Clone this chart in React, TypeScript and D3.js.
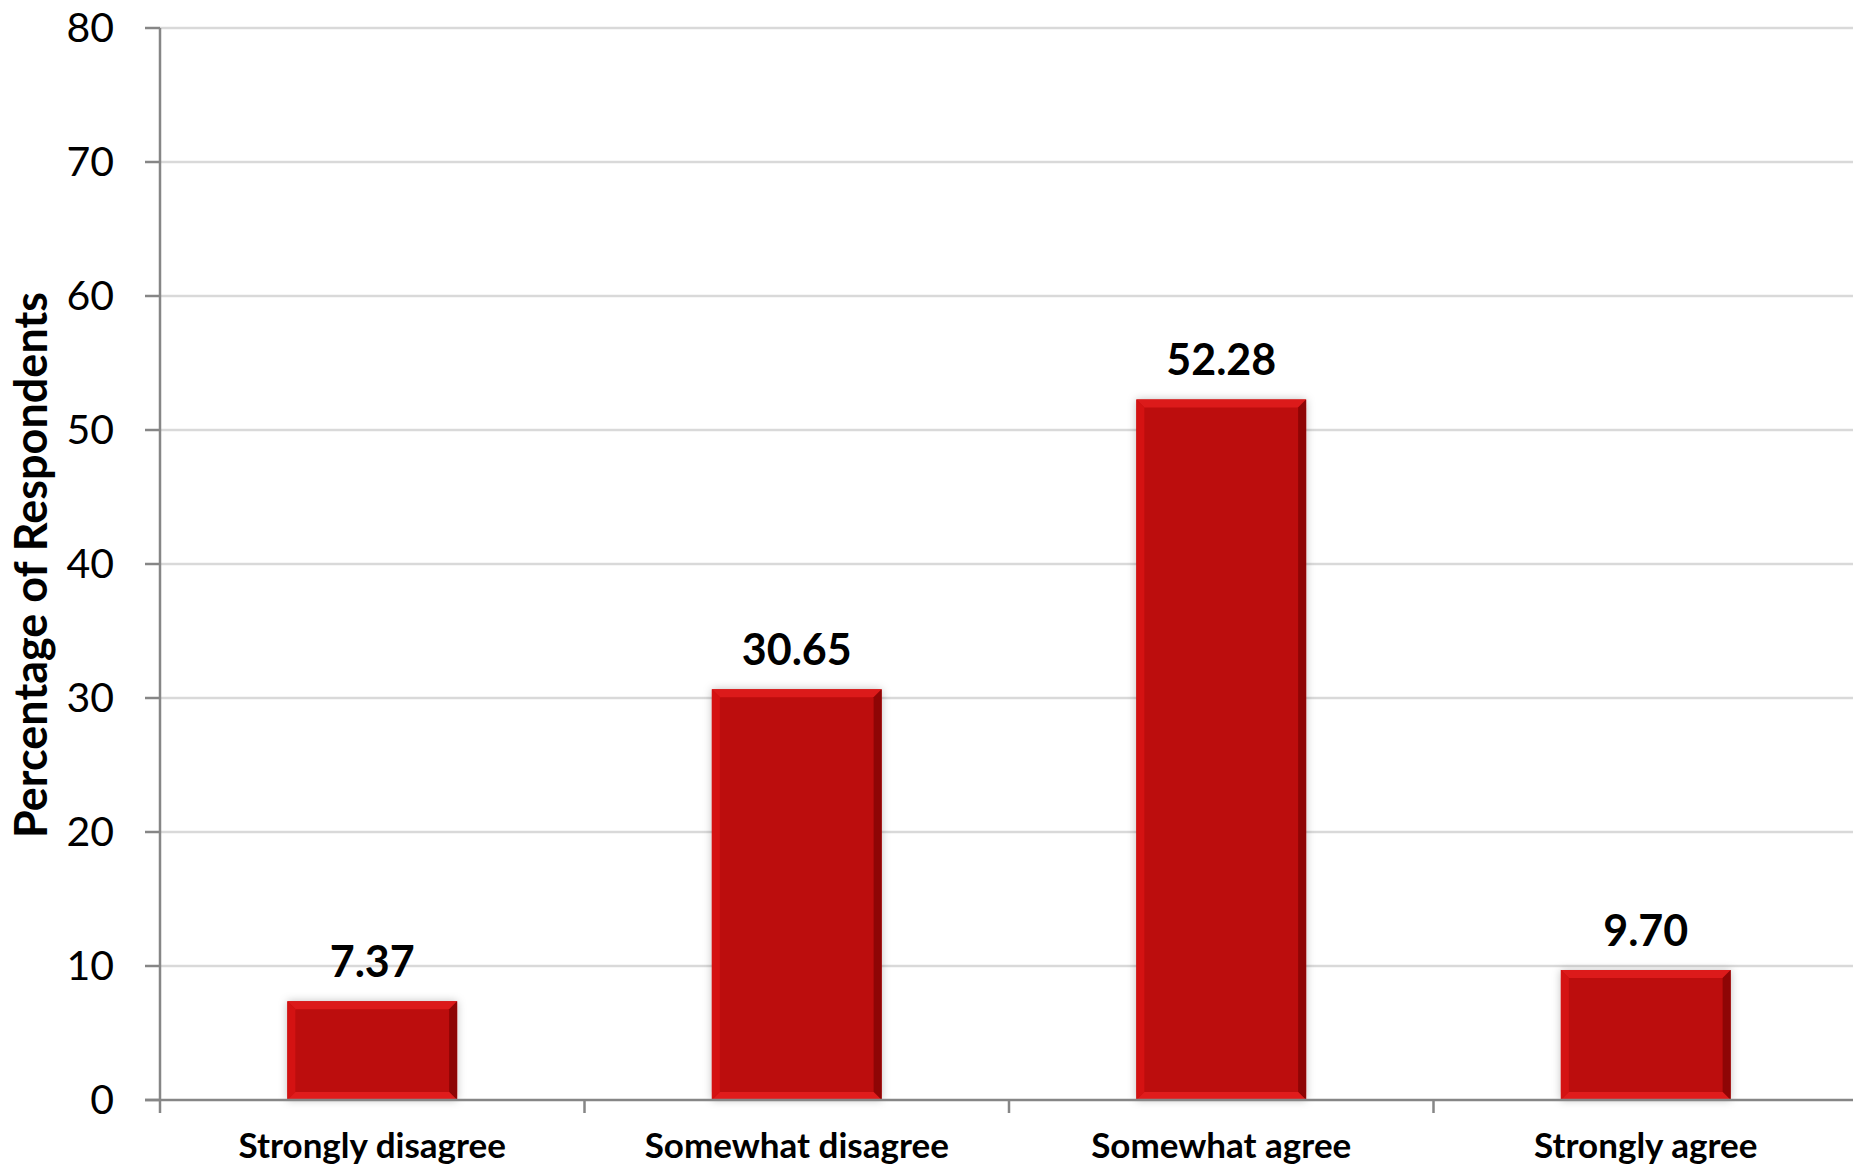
import React from 'react';
import * as d3 from 'd3';

const categories = ['Strongly disagree', 'Somewhat disagree', 'Somewhat agree', 'Strongly agree'];
const values = [7.37, 30.65, 52.28, 9.7];
const valueLabels = ['7.37', '30.65', '52.28', '9.70'];
const yTicks = [0, 10, 20, 30, 40, 50, 60, 70, 80];
const yTitle = 'Percentage of Respondents';

const FONT = "Lato, 'Open Sans', sans-serif";

export default function App() {
  const W = 1853;
  const H = 1167;
  const left = 160;
  const right = 1858;
  const bottom = 1100;
  const top = 28;

  const x = d3.scaleBand<string>().domain(categories).range([left, right]).paddingInner(0.6).paddingOuter(0.3);
  const y = d3.scaleLinear().domain([0, 80]).range([bottom, top]);
  const step = x.step();
  const bw = x.bandwidth();
  const bev = 8;

  return (
    <svg width={W} height={H} style={{ position: 'absolute', left: 0, top: 0, background: '#fff' }}>
      <defs>
        <filter id="sh" x="-10%" y="-10%" width="120%" height="120%">
          <feDropShadow dx="0" dy="0" stdDeviation="4" floodColor="#000" floodOpacity="0.25" />
        </filter>
      </defs>
      <rect x={0} y={0} width={W} height={H} fill="#fff" />
      {yTicks.filter((t) => t > 0).map((t) => (
        <line key={'g' + t} x1={left} x2={W} y1={y(t)} y2={y(t)} stroke="#d9d9d9" strokeWidth={2.5} />
      ))}
      {categories.map((c, i) => {
        const bx = x(c)!;
        const by = y(values[i]);
        const bh = y(0) - by;
        const r = bx + bw;
        const b = by + bh;
        return (
          <g key={c}>
            <rect x={bx} y={by} width={bw} height={bh} fill="#bc0808" filter="url(#sh)" />
            <polygon points={`${bx},${by} ${r},${by} ${r - bev},${by + bev} ${bx + bev},${by + bev}`} fill="#dc1a1a" />
            <polygon points={`${bx},${by} ${bx + bev},${by + bev} ${bx + bev},${b - bev} ${bx},${b}`} fill="#d41212" />
            <polygon points={`${r},${by} ${r},${b} ${r - bev},${b - bev} ${r - bev},${by + bev}`} fill="#8e0505" />
            <polygon points={`${bx},${b} ${r},${b} ${r - bev},${b - bev} ${bx + bev},${b - bev}`} fill="#e01c1c" />
            <text x={bx + bw / 2} y={by - 24} textAnchor="middle" fontFamily={FONT} fontWeight="bold" fontSize={43} fill="#000">
              {valueLabels[i]}
            </text>
          </g>
        );
      })}
      <line x1={left} x2={left} y1={top} y2={bottom} stroke="#868686" strokeWidth={2.5} />
      {yTicks.map((t) => (
        <g key={'t' + t}>
          <line x1={left - 15} x2={left} y1={y(t)} y2={y(t)} stroke="#868686" strokeWidth={2.5} />
          <text x={114} y={y(t)} dy="0.35em" textAnchor="end" fontFamily={FONT} fontSize={41} fill="#000">
            {t}
          </text>
        </g>
      ))}
      <line x1={left - 15} x2={W} y1={bottom} y2={bottom} stroke="#868686" strokeWidth={2.5} />
      {d3.range(categories.length + 1).map((i) => (
        <line key={'xt' + i} x1={left + i * step} x2={left + i * step} y1={bottom} y2={bottom + 13} stroke="#868686" strokeWidth={2.5} />
      ))}
      {categories.map((c) => (
        <text key={'l' + c} x={x(c)! + bw / 2} y={1158} textAnchor="middle" fontFamily={FONT} fontWeight="bold" fontSize={35} fill="#000">
          {c}
        </text>
      ))}
      <text transform={`translate(47, 565) rotate(-90)`} textAnchor="middle" fontFamily={FONT} fontWeight="bold" fontSize={45} fill="#000">
        {yTitle}
      </text>
    </svg>
  );
}
